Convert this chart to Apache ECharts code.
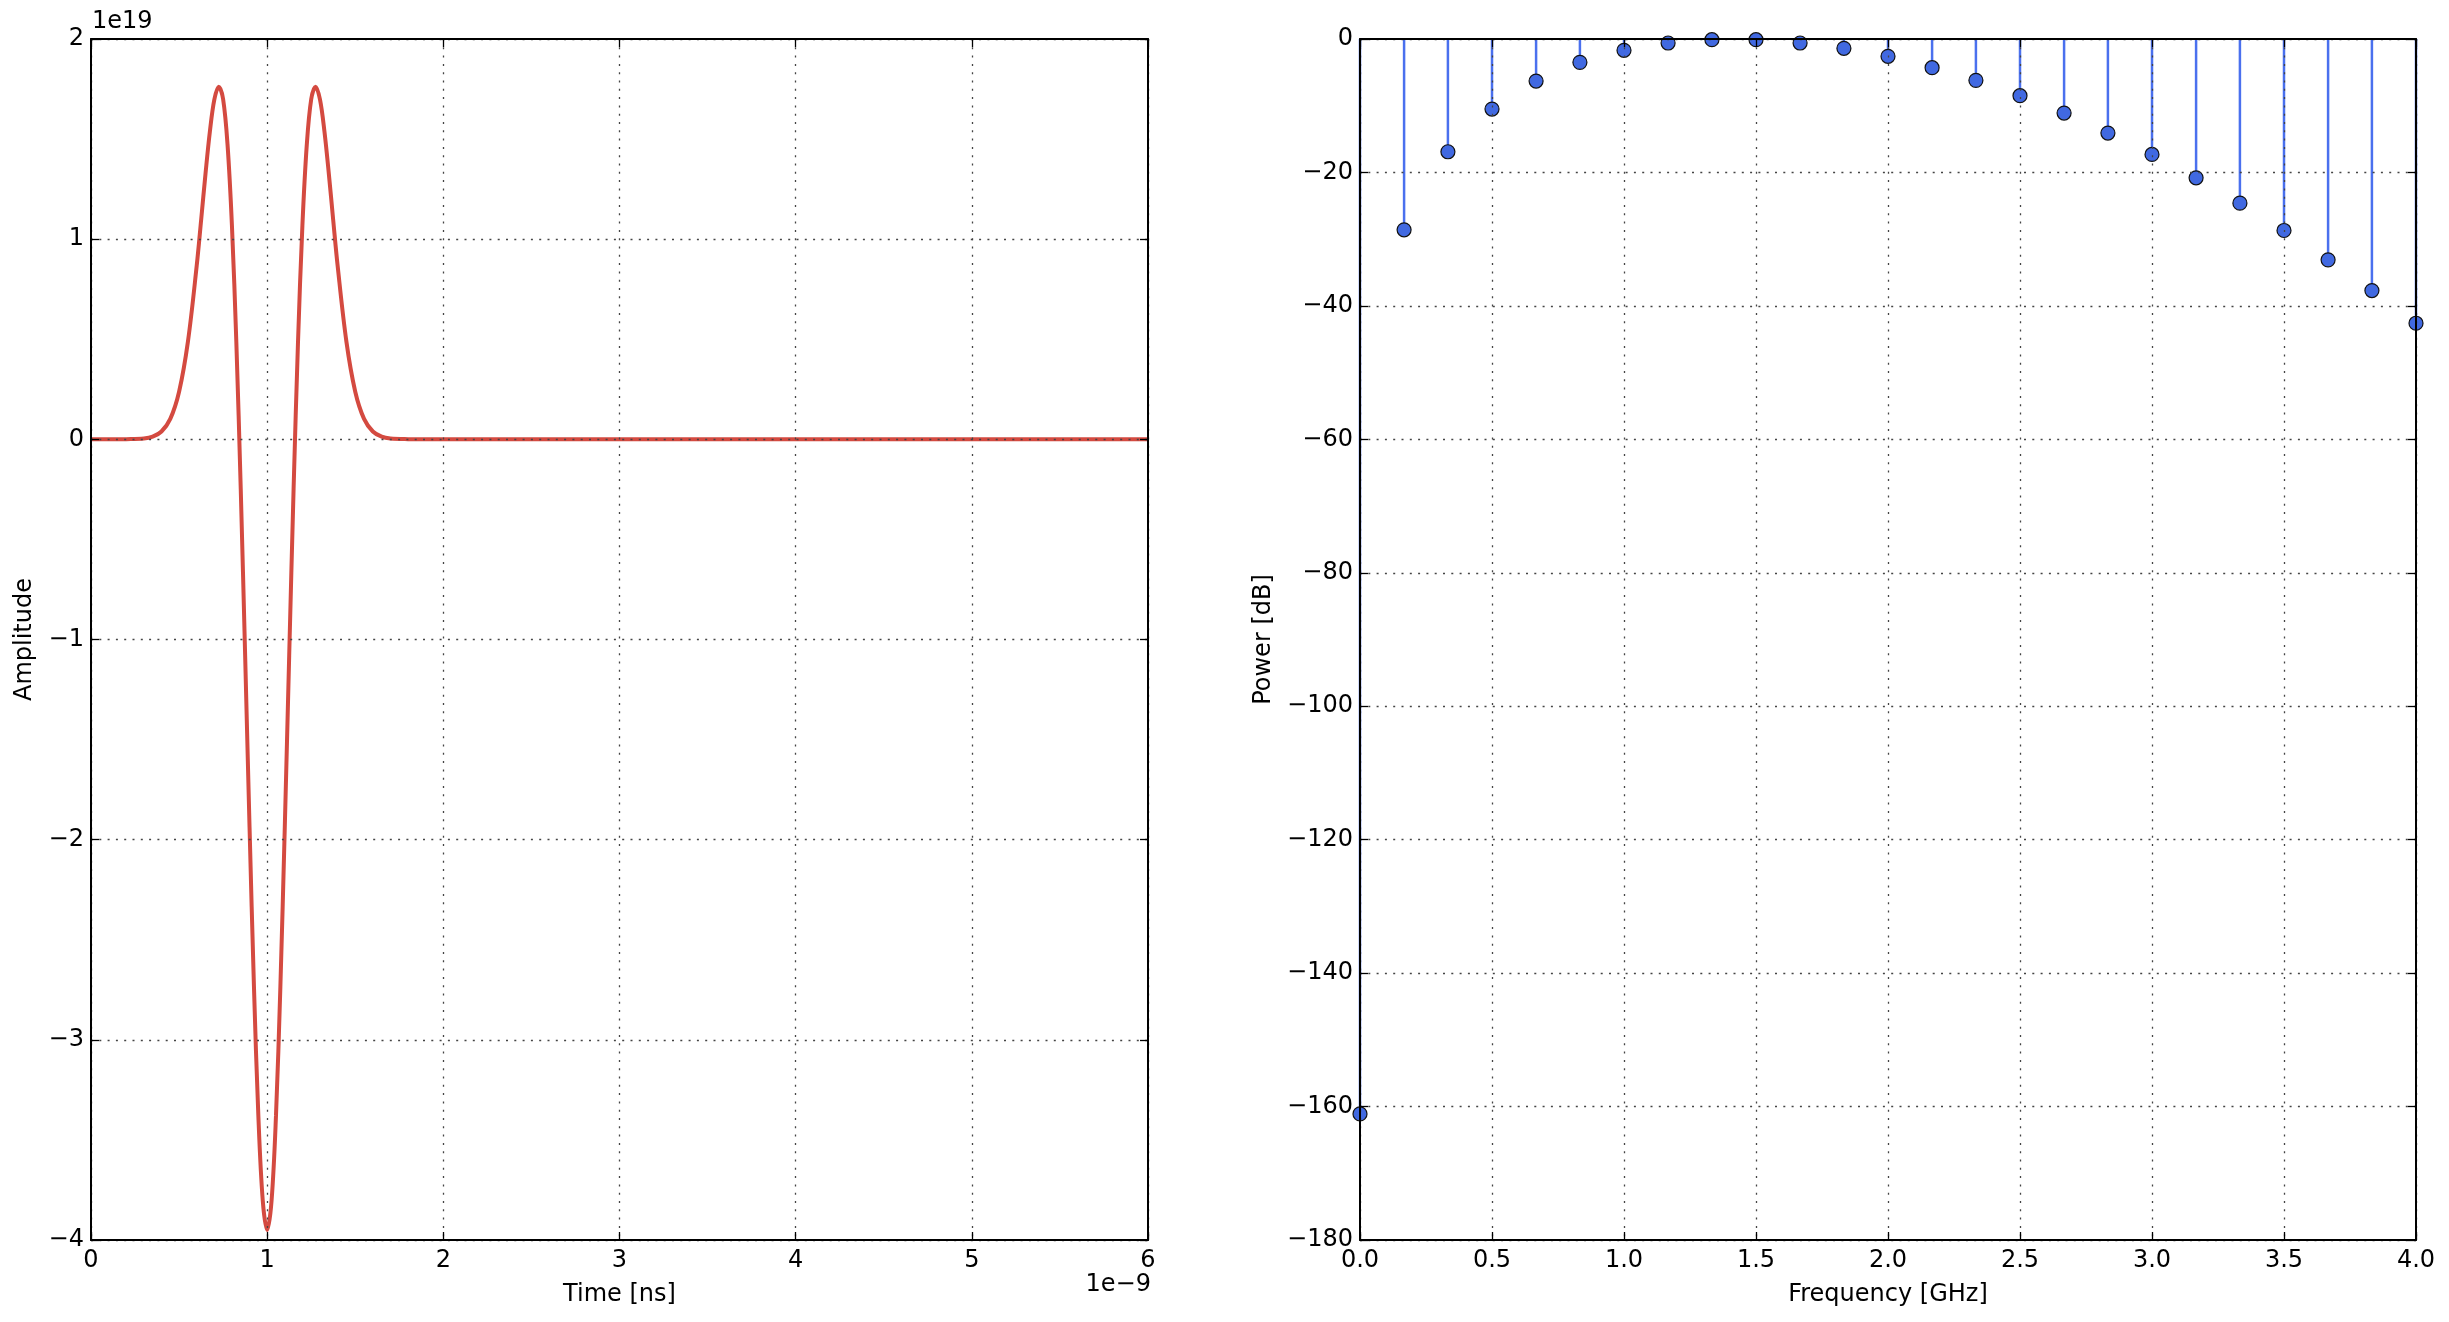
<!DOCTYPE html>
<html>
<head>
<meta charset="utf-8">
<script src="https://cdn.jsdelivr.net/npm/echarts@6/dist/echarts.min.js"></script>
<style>
html,body{margin:0;padding:0;background:#fff;}
#chart{width:2449px;height:1322px;}
</style>
</head>
<body>
<div id="chart"></div>
<script>
// ---- Left panel: time-domain pulse (time in ns, amplitude in units of 1e19)
var timeNs = [0, 0.1, 0.2, 0.3, 0.35, 0.4, 0.45, 0.5, 0.55, 0.6, 0.625, 0.65, 0.675, 0.7, 0.725, 0.75, 0.775, 0.8, 0.825, 0.85, 0.875, 0.9, 0.925, 0.95, 0.975, 1.0,
  1.025, 1.05, 1.075, 1.1, 1.125, 1.15, 1.175, 1.2, 1.225, 1.25, 1.275, 1.3, 1.325, 1.35, 1.375, 1.4, 1.45, 1.5, 1.55, 1.6, 1.65, 1.7, 1.8, 2, 3, 4, 5, 6];
var amplitude = [0, 0, 0.001, 0.004, 0.013, 0.039, 0.102, 0.238, 0.487, 0.867, 1.094, 1.327, 1.539, 1.697, 1.762, 1.699, 1.473, 1.068, 0.485, -0.248, -1.081, -1.938, -2.734, -3.380, -3.803, -3.95,
  -3.803, -3.380, -2.734, -1.938, -1.081, -0.248, 0.485, 1.068, 1.473, 1.699, 1.762, 1.697, 1.539, 1.327, 1.094, 0.867, 0.487, 0.238, 0.102, 0.039, 0.013, 0.004, 0.001, 0, 0, 0, 0, 0];

// ---- Right panel: power spectrum stems
var freqGHz = [0, 0.167, 0.333, 0.5, 0.667, 0.833, 1.0, 1.167, 1.333, 1.5, 1.667, 1.833, 2.0, 2.167, 2.333, 2.5, 2.667, 2.833, 3.0, 3.167, 3.333, 3.5, 3.667, 3.833, 4.0];
var powerDb = [-161.1, -28.6, -16.9, -10.5, -6.3, -3.5, -1.7, -0.6, -0.1, -0.1, -0.6, -1.4, -2.6, -4.3, -6.2, -8.5, -11.1, -14.1, -17.3, -20.8, -24.6, -28.7, -33.1, -37.7, -42.6];

// ---- Tick definitions
var leftXTicks = {min: 0, max: 6, interval: 1};
var leftYTicks = {min: -4, max: 2, interval: 1};
var rightXTicks = {min: 0, max: 4, interval: 0.5};
var rightYTicks = {min: -180, max: 0, interval: 20};

var FONT = 'DejaVu Sans';
var FS = 24;
function minus(s){ return String(s).replace('-', '\u2212'); }

var gridLine = {show: true, lineStyle: {color: '#444', width: 1.3, type: [2, 6.3]}};
var axLine = {show: true, onZero: false, lineStyle: {color: '#000', width: 2}};
var tick = {show: true, inside: true, length: 8, lineStyle: {color: '#000', width: 1.3}};
var lbl = {color: '#000', fontFamily: FONT, fontSize: FS};

function mainX(grid, t, fmt, name, gap){
  return {type: 'value', gridIndex: grid, position: 'bottom', min: t.min, max: t.max, interval: t.interval, z: 5,
    axisLine: axLine, axisTick: tick, splitLine: gridLine,
    axisLabel: Object.assign({margin: 9, formatter: fmt}, lbl),
    name: name, nameLocation: 'middle', nameGap: gap, nameTextStyle: {color: '#000', fontFamily: FONT, fontSize: FS}};
}
function mainY(grid, t, name, gap){
  return {type: 'value', gridIndex: grid, position: 'left', min: t.min, max: t.max, interval: t.interval, z: 5,
    axisLine: axLine, axisTick: tick, splitLine: gridLine,
    axisLabel: Object.assign({margin: 7, formatter: function(v){return minus(v);}}, lbl),
    name: name, nameLocation: 'middle', nameGap: gap, nameTextStyle: {color: '#000', fontFamily: FONT, fontSize: FS}};
}
function secX(grid, t){
  return {type: 'value', gridIndex: grid, position: 'top', min: t.min, max: t.max, interval: t.interval, z: 5,
    axisLine: axLine, axisTick: tick, splitLine: {show: false}, axisLabel: {show: false}};
}
function secY(grid, t){
  return {type: 'value', gridIndex: grid, position: 'right', min: t.min, max: t.max, interval: t.interval, z: 5,
    axisLine: axLine, axisTick: tick, splitLine: {show: false}, axisLabel: {show: false}};
}

var chart = echarts.init(document.getElementById('chart'), null, {renderer: 'canvas'});
chart.setOption({
  backgroundColor: '#fff',
  animation: false,
  textStyle: {fontFamily: FONT},
  grid: [
    {left: 91, top: 39, width: 1057, height: 1201},
    {left: 1360, top: 39, width: 1056, height: 1201}
  ],
  xAxis: [
    mainX(0, leftXTicks, function(v){return minus(v);}, 'Time [ns]', 43),
    secX(0, leftXTicks),
    mainX(1, rightXTicks, function(v){return minus(v.toFixed(1));}, 'Frequency [GHz]', 43),
    secX(1, rightXTicks)
  ],
  yAxis: [
    mainY(0, leftYTicks, 'Amplitude', 54),
    secY(0, leftYTicks),
    mainY(1, rightYTicks, 'Power [dB]', 84),
    secY(1, rightYTicks)
  ],
  graphic: [
    {type: 'text', left: 92, top: 10, style: {text: '1e19', fill: '#000', font: FS + 'px "' + FONT + '"'}},
    {type: 'text', right: 2449 - 1151, top: 1273, style: {text: '1e\u22129', fill: '#000', font: FS + 'px "' + FONT + '"'}}
  ],
  series: [
    {type: 'line', xAxisIndex: 0, yAxisIndex: 0, showSymbol: false, smooth: 0.35,
      data: timeNs.map(function(t, i){return [t, amplitude[i]];}),
      lineStyle: {color: '#d44a40', width: 4}, z: 2},
    {type: 'bar', xAxisIndex: 2, yAxisIndex: 2, barWidth: 2.5,
      data: freqGHz.map(function(f, i){return [f, powerDb[i]];}),
      itemStyle: {color: '#4a70ee'}, z: 2},
    {type: 'scatter', xAxisIndex: 2, yAxisIndex: 2, symbol: 'circle', symbolSize: 14,
      data: freqGHz.map(function(f, i){return [f, powerDb[i]];}),
      itemStyle: {color: '#4169e1', borderColor: '#111', borderWidth: 1.2, opacity: 1}, z: 3}
  ]
});
</script>
</body>
</html>
